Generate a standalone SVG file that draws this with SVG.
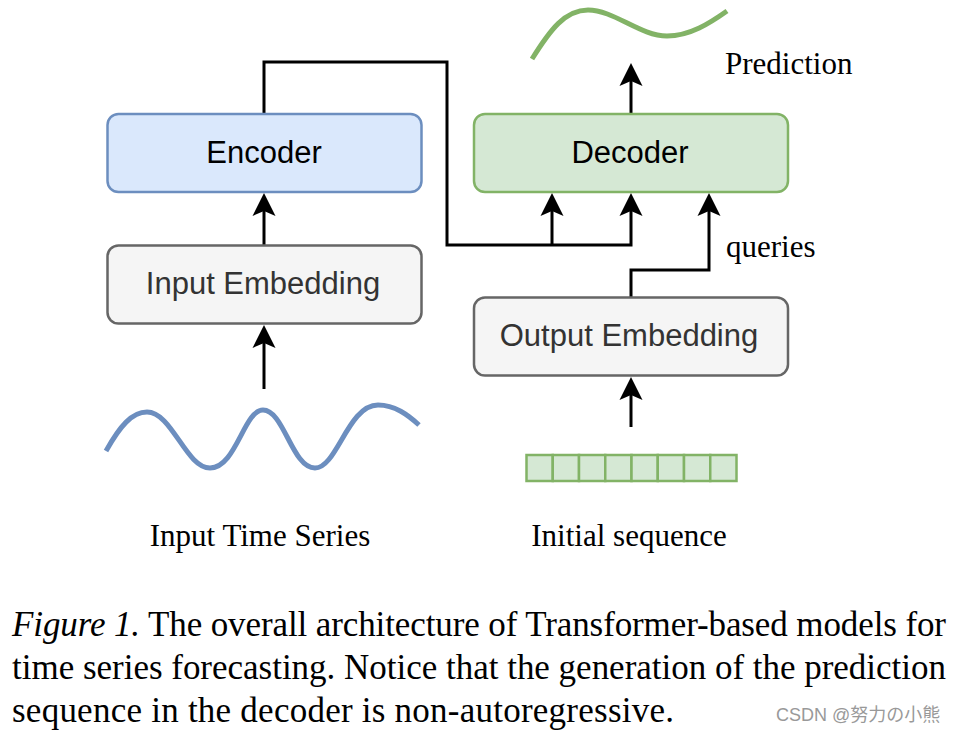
<svg xmlns="http://www.w3.org/2000/svg" width="956" height="735" viewBox="0 0 956 735">
<style>
.box{stroke-width:2.5}
.enc{fill:#dae8fc;stroke:#6c8ebf}
.dec{fill:#d5e8d4;stroke:#82b366}
.emb{fill:#f5f5f5;stroke:#666666}
.bt{font-family:"Liberation Sans",Arial,sans-serif;font-size:31px;text-anchor:middle}
.serif{font-family:"Liberation Serif","Times New Roman",serif;font-size:31px;fill:#000}
.cap{font-family:"Liberation Serif","Times New Roman",serif;font-size:35px;fill:#000}
.conn{fill:none;stroke:#000;stroke-width:3}
.cell{fill:#d5e8d4;stroke:#82b366;stroke-width:2.5}
</style>
<defs>
<marker id="arr" markerUnits="userSpaceOnUse" viewBox="-24 -12 25 24" refX="-10" refY="0" markerWidth="25" markerHeight="24" orient="auto">
<path d="M0,0 L-23,-11.5 L-18,0 L-23,11.5 Z" fill="#000"/>
</marker>
</defs>
<rect width="956" height="735" fill="#fff"/>
<g id="connectors">
<path class="conn" d="M264,114 V62 H447 V245 H631 V203" marker-end="url(#arr)"/>
<path class="conn" d="M552,245 V203" marker-end="url(#arr)"/>
<path class="conn" d="M631,297 V270 H709 V203" marker-end="url(#arr)"/>
<path class="conn" d="M631,114 V73" marker-end="url(#arr)"/>
<path class="conn" d="M264,245 V203" marker-end="url(#arr)"/>
<path class="conn" d="M264,389 V335" marker-end="url(#arr)"/>
<path class="conn" d="M631,427 V387" marker-end="url(#arr)"/>
</g>
<g id="encoder">
<rect class="box enc" x="107.5" y="114" width="314" height="78" rx="11"/>
<text class="bt" x="264" y="163" fill="#000">Encoder</text>
</g>
<g id="decoder">
<rect class="box dec" x="474" y="114" width="314" height="78" rx="11"/>
<text class="bt" x="630" y="163" fill="#000">Decoder</text>
</g>
<g id="input-embedding">
<rect class="box emb" x="107.5" y="245.5" width="314" height="78" rx="11"/>
<text class="bt" x="263" y="294" fill="#333">Input Embedding</text>
</g>
<g id="output-embedding">
<rect class="box emb" x="474" y="297.5" width="314" height="78" rx="11"/>
<text class="bt" x="629" y="346" fill="#333">Output Embedding</text>
</g>
<g id="input-series">
<path d="M106,451 C120,426 132,412 147,412 C172,412 186,468 210,468 C236,468 244,410 263,410 C284,410 292,468 315,468 C337,468 348,405 378,405 C395,405 408,415 419,425" fill="none" stroke="#6c8ebf" stroke-width="5"/>
<text class="serif" x="260" y="546" text-anchor="middle">Input Time Series</text>
</g>
<g id="prediction">
<path d="M532,59 C550,30 565,10 588,10 C614,10 640,36 667,36 C690,36 710,23 727,11" fill="none" stroke="#82b366" stroke-width="5"/>
<text class="serif" x="725" y="74">Prediction</text>
</g>
<g id="initial-sequence">
<rect class="cell" x="526.5" y="455" width="26.25" height="26"/>
<rect class="cell" x="552.75" y="455" width="26.25" height="26"/>
<rect class="cell" x="579" y="455" width="26.25" height="26"/>
<rect class="cell" x="605.25" y="455" width="26.25" height="26"/>
<rect class="cell" x="631.5" y="455" width="26.25" height="26"/>
<rect class="cell" x="657.75" y="455" width="26.25" height="26"/>
<rect class="cell" x="684" y="455" width="26.25" height="26"/>
<rect class="cell" x="710.25" y="455" width="26.25" height="26"/>
<text class="serif" x="629" y="546" text-anchor="middle">Initial sequence</text>
</g>
<text class="serif" x="726" y="257">queries</text>
<g id="caption">
<text class="cap" x="12" y="636" textLength="934" lengthAdjust="spacing"><tspan font-style="italic">Figure 1.</tspan> The overall architecture of Transformer-based models for</text>
<text class="cap" x="12" y="679" textLength="934" lengthAdjust="spacing">time series forecasting. Notice that the generation of the prediction</text>
<text class="cap" x="12" y="722" textLength="662" lengthAdjust="spacing">sequence in the decoder is non-autoregressive.</text>
</g>
<text x="776" y="721" font-family="'Liberation Sans','Noto Sans CJK SC',sans-serif" font-size="18" fill="#999">CSDN @努力の小熊</text>
</svg>
